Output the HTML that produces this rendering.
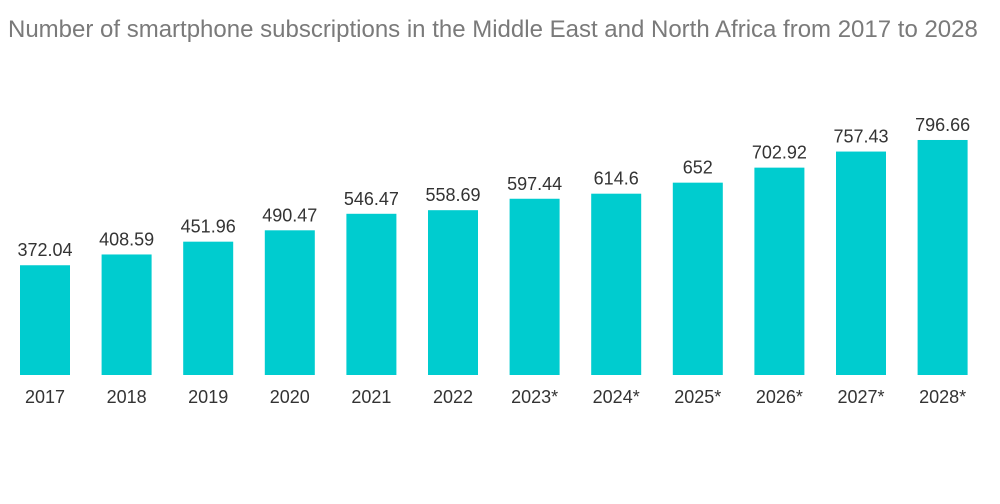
<!DOCTYPE html>
<html><head><meta charset="utf-8">
<style>
html,body{margin:0;padding:0;background:#fff;width:1000px;height:504px;overflow:hidden}
#title{position:absolute;left:8px;top:16px;font-family:"Liberation Sans",sans-serif;font-size:24px;color:#7a7a7a;white-space:nowrap}
svg{position:absolute;left:0;top:0}
</style></head><body>
<div id="title">Number of smartphone subscriptions in the Middle East and North Africa from 2017 to 2028</div>
<svg id="chart" width="1000" height="504"></svg>
<script>
const categories=["2017","2018","2019","2020","2021","2022","2023*","2024*","2025*","2026*","2027*","2028*"];
const values=[372.04,408.59,451.96,490.47,546.47,558.69,597.44,614.6,652,702.92,757.43,796.66];
const valueLabels=["372.04","408.59","451.96","490.47","546.47","558.69","597.44","614.6","652","702.92","757.43","796.66"];
const svg=document.getElementById('chart');
const NS='http://www.w3.org/2000/svg';
const x0=20,pitch=81.6,bw=50,baseY=375,scale=0.295;
function xPos(i){return x0+i*pitch;}
function yPos(v){return baseY-v*scale;}
categories.forEach((c,i)=>{
  const r=document.createElementNS(NS,'rect');
  r.setAttribute('x',xPos(i));r.setAttribute('y',yPos(values[i]));
  r.setAttribute('width',bw);r.setAttribute('height',baseY-yPos(values[i]));
  r.setAttribute('fill','#00cccf');
  
  
  svg.appendChild(r);
  const t=document.createElementNS(NS,'text');
  t.setAttribute('x',xPos(i)+bw/2);t.setAttribute('y',yPos(values[i])-9);
  t.setAttribute('text-anchor','middle');t.setAttribute('font-family','Liberation Sans, sans-serif');
  t.setAttribute('font-size','18');t.setAttribute('fill','#333');
  t.textContent=valueLabels[i];
  
  
  svg.appendChild(t);
  const l=document.createElementNS(NS,'text');
  l.setAttribute('x',xPos(i)+bw/2);l.setAttribute('y',403);
  l.setAttribute('text-anchor','middle');l.setAttribute('font-family','Liberation Sans, sans-serif');
  l.setAttribute('font-size','18');l.setAttribute('fill','#333');
  l.textContent=c;
  
  
  svg.appendChild(l);
});
</script>
</body></html>
